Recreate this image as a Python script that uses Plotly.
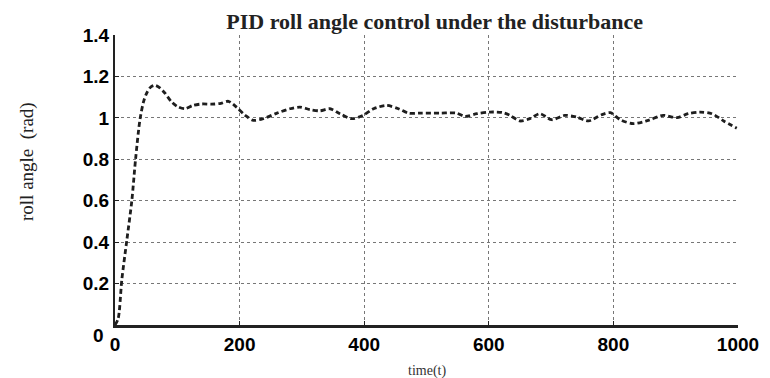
import plotly.graph_objects as go

time_t = [0, 5, 11, 19, 27, 33, 40, 46, 51, 57, 64, 72, 80, 90, 100, 112, 125, 140,
          155, 170, 182, 195, 209, 222, 238, 260, 281, 297, 313, 329, 345, 361, 380,
          398, 415, 436, 455, 471, 490, 522, 548, 562, 581, 602, 623, 634, 650, 666,
          682, 701, 722, 741, 760, 781, 795, 811, 832, 856, 880, 902, 920, 939, 958,
          977, 998]
roll_angle = [0, 0.03, 0.22, 0.41, 0.60, 0.80, 0.99, 1.08, 1.12, 1.148, 1.157, 1.145,
              1.12, 1.08, 1.055, 1.044, 1.06, 1.067, 1.066, 1.07, 1.08, 1.052, 1.012,
              0.988, 0.996, 1.023, 1.044, 1.052, 1.04, 1.034, 1.044, 1.02, 0.996, 1.012,
              1.044, 1.06, 1.044, 1.023, 1.023, 1.023, 1.023, 1.007, 1.02, 1.028, 1.025,
              1.012, 0.985, 0.996, 1.02, 0.991, 1.012, 1.004, 0.985, 1.015, 1.025, 0.991,
              0.972, 0.988, 1.012, 1.001, 1.02, 1.028, 1.02, 0.985, 0.95]

x_ticks = [0, 200, 400, 600, 800, 1000]
y_ticks = [0, 0.2, 0.4, 0.6, 0.8, 1, 1.2, 1.4]
y_tick_text = ["", "0.2", "0.4", "0.6", "0.8", "1", "1.2", "1.4"]

title_text = "PID roll angle control under the disturbance"
x_title = "time(t)"
y_title = "roll angle  (rad)"

serif = "Liberation Serif, Times New Roman, serif"
fig = go.Figure()
fig.add_trace(go.Scatter(
    x=time_t, y=roll_angle, mode="lines",
    line=dict(color="#1e1e1e", width=2.8, dash="5px,3px", shape="spline", smoothing=0.8),
    showlegend=False,
))

tick_font = dict(family="Liberation Sans, Arial", size=19, color="black", weight="bold")

fig.update_layout(
    width=762, height=370,
    margin=dict(l=107, r=32, t=27, b=53),
    paper_bgcolor="white", plot_bgcolor="white",
    title=dict(text=title_text, x=0.56, xanchor="center", y=0.985, yanchor="top",
               pad=dict(t=0, b=0),
               font=dict(family=serif, size=22, color="#222222", weight="bold")),
    xaxis=dict(range=[0, 1000], tickvals=x_ticks, ticktext=[str(v) for v in x_ticks],
               showgrid=True, gridcolor="#777777", griddash="dot", gridwidth=1,
               showline=True, linecolor="#222222", linewidth=2.5,
               ticks="inside", ticklen=4, tickcolor="#222222", tickfont=tick_font,
               zeroline=False, automargin=False),
    yaxis=dict(range=[0, 1.4], tickvals=y_ticks, ticktext=y_tick_text,
               showgrid=True, gridcolor="#777777", griddash="dot", gridwidth=1,
               showline=True, linecolor="#222222", linewidth=2,
               ticks="inside", ticklen=4, tickcolor="#222222", tickfont=tick_font,
               zeroline=False, automargin=False),
)

fig.add_annotation(x=0, y=0, xref="x", yref="y", text="0", showarrow=False,
                   xanchor="right", yanchor="middle", xshift=-9, yshift=-10,
                   font=tick_font)
fig.add_annotation(x=0, y=0.5, xref="paper", yref="paper", text=y_title, showarrow=False,
                   textangle=-90, xanchor="center", yanchor="middle", xshift=-88, yshift=18,
                   font=dict(family=serif, size=19, color="#222222"))
fig.add_annotation(x=0.5, y=0, xref="paper", yref="paper", text=x_title, showarrow=False,
                   xanchor="center", yanchor="middle", yshift=-46,
                   font=dict(family=serif, size=14, color="#333333"))

fig.write_html("out.html")
